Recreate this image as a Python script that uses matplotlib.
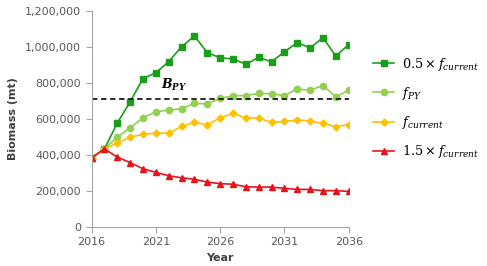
import matplotlib.pyplot as plt
import numpy as np

years = np.arange(2016, 2037)

half_f = [383000, 432000, 576000, 694000, 824000, 856000, 918000, 1000000, 1061000, 968000,
          939000, 933000, 903000, 941000, 917000, 972000, 1024000, 993000, 1052000, 948000, 1013000]
f_py = [383000, 432000, 498000, 550000, 605000, 639000, 648000, 656000, 685000, 683000,
        713000, 728000, 729000, 741000, 739000, 729000, 765000, 759000, 785000, 722000, 759000]
f_current = [383000, 432000, 465000, 498000, 513000, 520000, 520000, 557000, 580000, 567000,
             605000, 630000, 605000, 604000, 580000, 585000, 593000, 589000, 574000, 556000, 568000]
f_15 = [383000, 432000, 387000, 356000, 322000, 302000, 283000, 272000, 263000, 248000,
        239000, 236000, 222000, 220000, 220000, 213000, 207000, 207000, 200000, 200000, 196000]
b_py = 712000

plt.rcParams['mathtext.fontset'] = 'custom'
plt.rcParams['mathtext.rm'] = 'DejaVu Serif'
plt.rcParams['mathtext.it'] = 'DejaVu Serif:italic'
plt.rcParams['mathtext.bf'] = 'DejaVu Serif:italic:bold'

fig = plt.figure(figsize=(4.87, 2.66), dpi=100)
ax = fig.add_axes([0.188, 0.148, 0.528, 0.811])

ax.plot(years, half_f, '-s', color='#1a9e1a', ms=4.5, lw=1.2, label=r'$0.5\times f_{current}$')
ax.plot(years, f_py, '-o', color='#92d050', ms=4.5, lw=1.2, label=r'$f_{PY}$')
ax.plot(years, f_current, '-D', color='#ffc000', ms=3.5, lw=1.2, label=r'$f_{current}$')
ax.plot(years, f_15, '-^', color='#e8141c', ms=4.5, lw=1.2, label=r'$1.5\times f_{current}$')
ax.plot([years[0], years[-1]], [b_py, b_py], '--', color='#1a1a1a', lw=1.3, dashes=(3, 2))
ax.text(2021.4, 790000, r'$\mathbf{B_{PY}}$', fontsize=9, va='center', ha='left')

ax.set_xlim(2016, 2036)
ax.set_ylim(0, 1200000)
ax.set_xticks(np.arange(2016, 2037, 5))
ax.set_yticks(np.arange(0, 1200001, 200000))
ax.yaxis.set_major_formatter(plt.FuncFormatter(lambda v, p: f'{int(v):,}'))

for s in ['top', 'right']:
    ax.spines[s].set_visible(False)
for s in ['left', 'bottom']:
    ax.spines[s].set_color('#a6a6a6')
ax.tick_params(colors='#a6a6a6', labelcolor='#595959', labelsize=8, length=4)

ax.set_xlabel('Year', fontsize=8, weight='bold', color='#404040', labelpad=4)
ax.set_ylabel('Biomass (mt)', fontsize=8, weight='bold', color='#404040', labelpad=5)

ax.legend(loc='center left', bbox_to_anchor=(1.05, 0.55), frameon=False, fontsize=9.3,
          labelspacing=0.95, handlelength=1.6, handletextpad=0.6)

fig.savefig('out.png', dpi=100)
